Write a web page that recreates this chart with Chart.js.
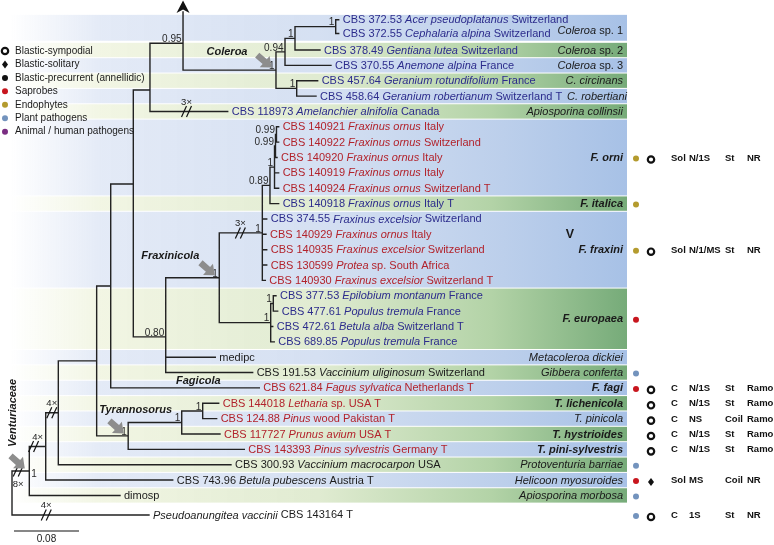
<!DOCTYPE html>
<html>
<head>
<meta charset="utf-8">
<script src="https://cdn.jsdelivr.net/npm/chart.js@4.4.1/dist/chart.umd.min.js"></script>
<style>
  html, body { margin: 0; padding: 0; background: #fff; }
  #wrap { width: 774px; height: 545px; }
</style>
</head>
<body>
<div id="wrap"><canvas id="tree" width="774" height="545"></canvas></div>
<script>
// ---- tree: internal nodes (depth = drawn branch length from root) ----
const nodeId      = ['root','ventu','n3','n4','n5','n6','n7','n8','n9','col','c094','c1','c2','cger','n080','fxc','ffr','f089','forn','f099b','f099a','feu','feu1','tyr','ty1','ty2'];
const nodeParent  = [null,'root','ventu','n3','n4','n5','n6','n7','n8','n9','col','c094','c1','col','n7','n080','fxc','ffr','f089','forn','f099b','fxc','feu','n5','tyr','ty1'];
const nodeDepth   = [0,0.0213,0.0415,0.057,0.1042,0.1215,0.1493,0.1698,0.2105,0.3249,0.336,0.3483,0.3984,0.3504,0.1892,0.2551,0.3081,0.3175,0.3231,0.3243,0.3255,0.3184,0.3216,0.143,0.2089,0.2347];
const nodeSupport = ['','1','','','','','','','0.95','1','0.94','1','1','1','0.80','1','1','0.89','1','0.99','0.99','1','1','1','1','1'];
const nodeRowFixed = { n7: 11.72, n8: 5.6, n9: 2.56, n080: 21.68 };
const upBranch = { parent: 'n9', row: 0.53 };   // lineage continuing off the top

// ---- tips ----
const tipLabel = [
  ['CBS 372.53 ','Acer pseudoplatanus',' Switzerland'],
  ['CBS 372.55 ','Cephalaria alpina',' Switzerland'],
  ['CBS 378.49 ','Gentiana lutea',' Switzerland'],
  ['CBS 370.55 ','Anemone alpina',' France'],
  ['CBS 457.64 ','Geranium rotundifolium',' France'],
  ['CBS 458.64 ','Geranium robertianum',' Switzerland T'],
  ['CBS 118973 ','Amelanchier alnifolia',' Canada'],
  ['CBS 140921 ','Fraxinus ornus',' Italy'],
  ['CBS 140922 ','Fraxinus ornus',' Switzerland'],
  ['CBS 140920 ','Fraxinus ornus',' Italy'],
  ['CBS 140919 ','Fraxinus ornus',' Italy'],
  ['CBS 140924 ','Fraxinus ornus',' Switzerland T'],
  ['CBS 140918 ','Fraxinus ornus',' Italy T'],
  ['CBS 374.55 ','Fraxinus excelsior',' Switzerland'],
  ['CBS 140929 ','Fraxinus ornus',' Italy'],
  ['CBS 140935 ','Fraxinus excelsior',' Switzerland'],
  ['CBS 130599 ','Protea',' sp. South Africa'],
  ['CBS 140930 ','Fraxinus excelsior',' Switzerland T'],
  ['CBS 377.53 ','Epilobium montanum',' France'],
  ['CBS 477.61 ','Populus tremula',' France'],
  ['CBS 472.61 ','Betula alba',' Switzerland T'],
  ['CBS 689.85 ','Populus tremula',' France'],
  ['medipc','',''],
  ['CBS 191.53 ','Vaccinium uliginosum',' Switzerland'],
  ['CBS 621.84 ','Fagus sylvatica',' Netherlands T'],
  ['CBS 144018 ','Letharia',' sp. USA T'],
  ['CBS 124.88 ','Pinus',' wood Pakistan T'],
  ['CBS 117727 ','Prunus avium',' USA T'],
  ['CBS 143393 ','Pinus sylvestris',' Germany T'],
  ['CBS 300.93 ','Vaccinium macrocarpon',' USA'],
  ['CBS 743.96 ','Betula pubescens',' Austria T'],
  ['dimosp','',''],
  ['','Pseudoanungitea vaccinii',' CBS 143164 T']
];
const tipGroup  = ['b','b','b','b','b','b','b','r','r','r','r','r','b','b','r','r','r','r','b','b','b','b','k','k','r','r','r','r','r','k','k','k','k'];
const tipParent = ['c2','c2','c1','c094','cger','cger','n8','f099a','f099a','f099b','forn','forn','f089','ffr','ffr','ffr','ffr','ffr','feu1','feu1','feu','feu','n080','n080','n6','ty2','ty2','ty1','tyr','n4','n3','ventu','root'];
const tipDepth  = [0.4021,0.4021,0.3791,0.3926,0.3762,0.3742,0.2655,0.3282,0.3282,0.3262,0.3282,0.3282,0.3282,0.3135,0.3126,0.3135,0.3135,0.3118,0.3249,0.327,0.3209,0.3228,0.2502,0.2962,0.3044,0.2544,0.2519,0.256,0.2859,0.2695,0.1978,0.1329,0.1686];
const tipRow    = [1.03,1.93,3,4,5,6,7,8,9,10,11,12,13,14,15,16,17,18,19,20,21,22,23,24,25,26,27,28,29,30,31,32,33.27];

// ---- shortened branches ----
const breakOn    = ['tip7','ffr','n3','n4','ventu','tip33'];
const breakTimes = ['3×','3×','4×','4×','8×','4×'];

// ---- clades / species boxes ----
const cladeName  = [['Coleroa',' sp. 1'],['Coleroa',' sp. 2'],['Coleroa',' sp. 3'],['C. circinans',''],['C. robertiani',''],['Apiosporina collinsii',''],['F. orni',''],['F. italica',''],['F. fraxini',''],['F. europaea',''],['Metacoleroa dickiei',''],['Gibbera conferta',''],['F. fagi',''],['T. lichenicola',''],['T. pinicola',''],['T. hystrioides',''],['T. pini-sylvestris',''],['Protoventuria barriae',''],['Helicoon myosuroides',''],['Apiosporina morbosa','']];
const cladeFirst = [1,3,4,5,6,7,8,13,14,19,23,24,25,26,27,28,29,30,31,32];
const cladeLast  = [2,3,4,5,6,7,12,13,18,22,23,24,25,26,27,28,29,30,31,32];
const cladeNew   = [0,0,0,0,0,0,1,1,1,1,0,0,1,1,0,1,1,0,0,0];
const genera     = [['Coleroa','col'],['Fraxinicola','fxc'],['Tyrannosorus','tyr'],['Fagicola','tip25'],['Venturiaceae','ventu']];

// ---- ecology / conidiogenesis / morphology columns ----
const traitTip   = [10,13,16,20.5,24,25,26,27,28,29,30,31,32,33];
const traitHost  = ['endo','endo','endo','sap','path','sap',null,null,null,null,'path','sap','path','path'];
const traitConid = ['ring',null,'ring',null,null,'ring','ring','ring','ring','ring',null,'diamond',null,'ring'];
const traitText  = [['Sol','N/1S','St','NR'],[],['Sol','N/1/MS','St','NR'],[],[],['C','N/1S','St','Ramo'],['C','N/1S','St','Ramo'],['C','NS','Coil','Ramo'],['C','N/1S','St','Ramo'],['C','N/1S','St','Ramo'],[],['Sol','MS','Coil','NR'],[],['C','1S','St','NR']];

const legendKind = ['ring','diamond','dot','sap','endo','path','animal'];
const legendText = ['Blastic-sympodial','Blastic-solitary','Blastic-precurrent (annellidic)','Saprobes','Endophytes','Plant pathogens','Animal / human pathogens'];
const scaleBar = 0.08;

// ---- build tree geometry ----
const FF = '"Liberation Sans", Arial, Helvetica, sans-serif';
const kids = {}, depthOf = {}, rowOf = {};
nodeId.forEach((id, i) => { kids[id] = []; depthOf[id] = nodeDepth[i]; });
nodeParent.forEach((p, i) => { if (p) kids[p].push(nodeId[i]); });
tipParent.forEach((p, i) => {
  const id = 'tip' + (i + 1);
  kids[p].push(id); depthOf[id] = tipDepth[i]; rowOf[id] = tipRow[i];
});
kids[upBranch.parent].push('up'); rowOf.up = upBranch.row; depthOf.up = depthOf[upBranch.parent];

function rowFor(id) {
  if (rowOf[id] !== undefined) return rowOf[id];
  const rs = kids[id].map(rowFor);
  if (nodeRowFixed[id] !== undefined) return rowOf[id] = nodeRowFixed[id];
  return rowOf[id] = (Math.min(...rs) + Math.max(...rs)) / 2;
}
nodeId.forEach(rowFor);
const parentOf = {};
nodeId.forEach(id => kids[id].forEach(k => parentOf[k] = id));

const branchPts = [];
const GAP = { x: NaN, y: NaN };
nodeId.forEach(id => {
  const rs = kids[id].map(rowFor);
  branchPts.push({ x: depthOf[id], y: Math.min(...rs) }, { x: depthOf[id], y: Math.max(...rs) }, GAP);
  kids[id].forEach(k => {
    if (k === 'up') return;
    branchPts.push({ x: depthOf[id], y: rowOf[k] }, { x: depthOf[k], y: rowOf[k] }, GAP);
  });
});

function tipY(t) {
  const a = Math.floor(t), b = Math.ceil(t);
  return (tipRow[a - 1] + tipRow[b - 1]) / 2;
}

// ---- drawing helpers ----
const ink = { b: '#2c2c8c', r: '#b2232c', k: '#1c1c1c' };
const hostColor = { sap: '#c8161e', endo: '#b49b2e', path: '#7393bd', animal: '#7a2d82', dot: '#111' };

function font(size, italic, bold) { return (italic ? 'italic ' : '') + (bold ? 'bold ' : '') + size + 'px ' + FF; }
function drawRuns(ctx, runs, x, y, size, bold, align) {
  runs = runs.filter(r => r[0]);
  const w = runs.map(r => { ctx.font = font(size, r[1], bold); return ctx.measureText(r[0]).width; });
  let cx = align === 'right' ? x - w.reduce((a, b) => a + b, 0) : x;
  ctx.textAlign = 'left';
  runs.forEach((r, i) => { ctx.font = font(size, r[1], bold); ctx.fillText(r[0], cx, y); cx += w[i]; });
}
function symbol(ctx, kind, x, y) {
  ctx.save();
  if (kind === 'ring') {
    ctx.beginPath(); ctx.arc(x, y, 3.2, 0, Math.PI * 2);
    ctx.lineWidth = 2.2; ctx.strokeStyle = '#111'; ctx.stroke();
  } else if (kind === 'diamond') {
    ctx.beginPath(); ctx.moveTo(x, y - 4); ctx.lineTo(x + 3, y); ctx.lineTo(x, y + 4); ctx.lineTo(x - 3, y); ctx.closePath();
    ctx.fillStyle = '#111'; ctx.fill();
  } else {
    ctx.beginPath(); ctx.arc(x, y, 3, 0, Math.PI * 2);
    ctx.fillStyle = hostColor[kind]; ctx.fill();
  }
  ctx.restore();
}
function grayArrow(ctx, tx, ty, ang) {
  ctx.save(); ctx.translate(tx, ty); ctx.rotate(ang);
  ctx.beginPath();
  ctx.moveTo(0, 0); ctx.lineTo(-9, -7.5); ctx.lineTo(-9, -3.2); ctx.lineTo(-19, -3.2);
  ctx.lineTo(-19, 3.2); ctx.lineTo(-9, 3.2); ctx.lineTo(-9, 7.5); ctx.closePath();
  ctx.fillStyle = '#8d8d8d'; ctx.fill(); ctx.restore();
}

const BAND_RIGHT = 627;
const bandPlugin = {
  id: 'bands',
  beforeDatasetsDraw(chart) {
    const { ctx, scales: { y } } = chart;
    const blue = ctx.createLinearGradient(10, 0, BAND_RIGHT, 0);
    blue.addColorStop(0, 'rgba(226,233,246,0)');
    blue.addColorStop(0.15, 'rgba(226,233,246,0.95)');
    blue.addColorStop(0.5, '#d5e0f2');
    blue.addColorStop(0.8, '#bccfeb');
    blue.addColorStop(1, '#a7c1e6');
    const green = ctx.createLinearGradient(10, 0, BAND_RIGHT, 0);
    green.addColorStop(0, 'rgba(241,245,226,0)');
    green.addColorStop(0.15, 'rgba(241,245,226,0.95)');
    green.addColorStop(0.5, '#e0ebd1');
    green.addColorStop(0.78, '#b3d3a7');
    green.addColorStop(1, '#76ab79');
    ctx.save();
    cladeFirst.forEach((f, i) => {
      const top = y.getPixelForValue(tipRow[f - 1] - (i === 0 ? 0.35 : 0.5)) + 0.5;
      const bot = y.getPixelForValue(tipRow[cladeLast[i] - 1] + 0.5) - 0.5;
      ctx.fillStyle = i % 2 === 0 ? blue : green;
      ctx.fillRect(0, top, BAND_RIGHT, bot - top);
    });
    ctx.restore();
  }
};

const labelPlugin = {
  id: 'labels',
  afterDatasetsDraw(chart) {
    const { ctx, scales: { x, y } } = chart;
    const px = id => x.getPixelForValue(depthOf[id]);
    const py = id => y.getPixelForValue(rowOf[id]);
    ctx.save();
    ctx.textBaseline = 'middle';

    // arrowhead of the lineage leaving the top
    const ax = px(upBranch.parent), ay = y.getPixelForValue(upBranch.row);
    ctx.beginPath(); ctx.moveTo(ax, 0.5); ctx.lineTo(ax - 6.5, ay + 1); ctx.lineTo(ax, ay - 2.5); ctx.lineTo(ax + 6.5, ay + 1); ctx.closePath();
    ctx.fillStyle = '#111'; ctx.fill();

    // tip labels
    tipLabel.forEach((parts, i) => {
      ctx.fillStyle = ink[tipGroup[i]];
      drawRuns(ctx, [[parts[0], false], [parts[1], true], [parts[2], false]], px('tip' + (i + 1)) + 4, py('tip' + (i + 1)) + 0.5, 11, false, 'left');
    });

    // support values
    ctx.fillStyle = '#2a2a2a';
    ctx.font = font(10);
    nodeId.forEach((id, i) => {
      const s = nodeSupport[i];
      if (!s) return;
      if (id === 'ventu') {
        ctx.textAlign = 'left'; ctx.textBaseline = 'middle';
        ctx.fillText(s, px(id) + 2, py(id) + 3.5);
      } else {
        ctx.textAlign = 'right'; ctx.textBaseline = 'bottom';
        ctx.fillText(s, px(id) - 1.5, py(id) + 1);
      }
    });

    // shortened-branch marks
    const breakFrac = [0.47, 0.49, 0.26, 0.48, 0.36, 0.25];
    ctx.strokeStyle = '#111'; ctx.lineWidth = 1.2;
    breakOn.forEach((k, i) => {
      const x0 = px(parentOf[k]), x1 = px(k), yy = py(k);
      const bx = x0 + (x1 - x0) * breakFrac[i];
      [-2.5, 2.5].forEach(o => {
        ctx.beginPath(); ctx.moveTo(bx + o - 2.5, yy + 5.5); ctx.lineTo(bx + o + 2.5, yy - 5.5); ctx.stroke();
      });
      ctx.fillStyle = '#222'; ctx.font = font(9.5); ctx.textAlign = 'center'; ctx.textBaseline = 'middle';
      ctx.fillText(breakTimes[i], bx + (k === 'n3' ? 4 : 0), yy + (k === 'ventu' ? 13 : -9.5));
    });

    // genus labels and pointers
    ctx.fillStyle = '#1a1a1a';
    ctx.textBaseline = 'middle';
    const gPos = { Coleroa: [-28.5, -18.5, 'right'], Fraxinicola: [-20, -22, 'right'], Tyrannosorus: [-29, -26, 'left'], Fagicola: [-83.3, -6.5, 'left'] };
    genera.forEach(([name, at]) => {
      if (name === 'Venturiaceae') {
        ctx.save(); ctx.translate(13, py(at) - 58); ctx.rotate(-Math.PI / 2);
        ctx.font = font(11, true, true); ctx.textAlign = 'center'; ctx.fillText(name, 0, 0);
        ctx.restore();
      } else {
        const [dx, dy, al] = gPos[name];
        ctx.font = font(11, true, true); ctx.textAlign = al;
        ctx.fillText(name, px(at) + dx, py(at) + dy);
      }
      if (at !== 'tip25') grayArrow(ctx, px(at) - 4.5, py(at) - 2.5, 0.72);
    });

    // clade / species labels in the boxes
    ctx.fillStyle = '#1a1a1a';
    ctx.textBaseline = 'middle';
    const labelRowAt = { 0: 1.74 };
    const labelRight = { 4: 627 };
    cladeName.forEach((nm, i) => {
      const r = labelRowAt[i] !== undefined ? labelRowAt[i] : (tipRow[cladeFirst[i] - 1] + tipRow[cladeLast[i] - 1]) / 2;
      drawRuns(ctx, [[nm[0], true], [nm[1], false]], labelRight[i] || 623, y.getPixelForValue(r) + 0.5, 11, cladeNew[i] === 1, 'right');
    });
    ctx.font = font(12.5, false, true); ctx.textAlign = 'center';
    ctx.fillText('V', 570, y.getPixelForValue(15) + 0.5);

    // trait columns
    const colX = [671, 689, 725, 747];
    traitTip.forEach((t, i) => {
      const yy = y.getPixelForValue(tipY(t)) + 1;
      if (traitHost[i]) symbol(ctx, traitHost[i], 636, yy);
      if (traitConid[i]) symbol(ctx, traitConid[i], 651, yy + 1);
      ctx.fillStyle = '#111'; ctx.font = font(9.5, false, true); ctx.textAlign = 'left'; ctx.textBaseline = 'middle';
      traitText[i].forEach((s, j) => ctx.fillText(s, colX[j], yy - 0.5));
    });

    // legend
    legendKind.forEach((k, i) => {
      const yy = 51 + i * 13.45;
      symbol(ctx, k, 5, yy);
      ctx.fillStyle = '#1a1a1a'; ctx.font = font(10); ctx.textAlign = 'left'; ctx.textBaseline = 'middle';
      ctx.fillText(legendText[i], 15, yy);
    });

    // scale bar
    const sb0 = 14, sbLen = x.getPixelForValue(scaleBar) - x.getPixelForValue(0);
    ctx.strokeStyle = '#111'; ctx.lineWidth = 1.2;
    ctx.beginPath(); ctx.moveTo(sb0, 531); ctx.lineTo(sb0 + sbLen, 531); ctx.stroke();
    ctx.fillStyle = '#1a1a1a'; ctx.font = font(10); ctx.textAlign = 'center'; ctx.textBaseline = 'middle';
    ctx.fillText(String(scaleBar), sb0 + sbLen / 2, 539);
    ctx.restore();
  }
};

new Chart(document.getElementById('tree'), {
  type: 'scatter',
  data: {
    datasets: [{
      data: branchPts,
      showLine: true,
      spanGaps: false,
      borderColor: '#222',
      borderWidth: 1.4,
      borderCapStyle: 'square',
      pointRadius: 0,
      pointHoverRadius: 0
    }]
  },
  plugins: [bandPlugin, labelPlugin],
  options: {
    responsive: false,
    animation: false,
    devicePixelRatio: 1,
    events: [],
    layout: { padding: 0 },
    plugins: { legend: { display: false }, tooltip: { enabled: false } },
    scales: {
      x: { type: 'linear', display: false, min: -0.01477, max: 0.93785 },
      y: { type: 'linear', display: false, reverse: true, min: -0.2552, max: 35.227 }
    }
  }
});
</script>
</body>
</html>
